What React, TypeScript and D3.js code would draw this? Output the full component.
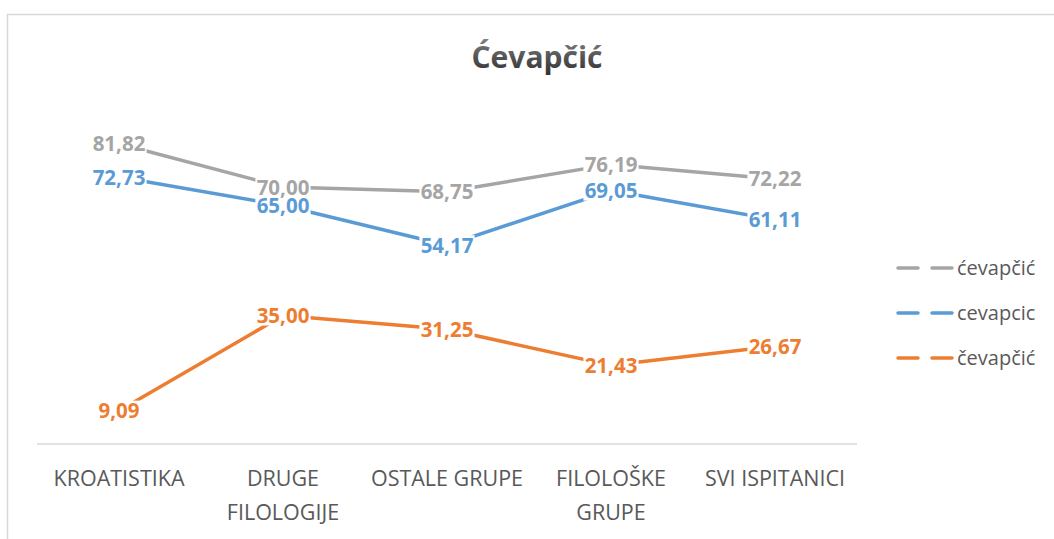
import React from "react";
import * as d3 from "d3";

const categories: string[][] = [
  ["KROATISTIKA"],
  ["DRUGE", "FILOLOGIJE"],
  ["OSTALE GRUPE"],
  ["FILOLOŠKE", "GRUPE"],
  ["SVI ISPITANICI"],
];
const seriesNames = ["ćevapčić", "cevapcic", "čevapčić"];
const seriesColors = ["#A5A5A5", "#5B9BD5", "#ED7D31"];
const grayValues = [81.82, 70.0, 68.75, 76.19, 72.22];
const blueValues = [72.73, 65.0, 54.17, 69.05, 61.11];
const orangeValues = [9.09, 35.0, 31.25, 21.43, 26.67];
const seriesValues = [grayValues, blueValues, orangeValues];
const yDomain = [0, 100];

const W = 1054;
const H = 539;
const plotLeft = 37;
const plotRight = 857;
const plotBottom = 444;
const plotTop = 77;
const FONT = "'Open Sans', 'Noto Sans', sans-serif";

export default function App() {
  const x = d3
    .scaleBand<number>()
    .domain(categories.map((_, i) => i))
    .range([plotLeft, plotRight]);
  const y = d3.scaleLinear().domain(yDomain).range([plotBottom, plotTop]);
  const cx = (i: number) => (x(i) as number) + x.bandwidth() / 2;
  const line = d3
    .line<number>()
    .x((_, i) => cx(i))
    .y((d) => y(d));
  const fmt = (v: number) => v.toFixed(2).replace(".", ",");
  const labelW = (s: string) =>
    s.split("").reduce((a, c) => a + (c === "," ? 6 : 11.8), 0) + 2;

  return (
    <svg
      width={W}
      height={H}
      style={{ position: "absolute", left: 0, top: 0, background: "#fff" }}
    >
      <defs>
        <linearGradient id="tg" x1="0" y1="0" x2="0" y2="1">
          <stop offset="0" stopColor="#8a8a8a" />
          <stop offset="0.5" stopColor="#555555" />
          <stop offset="1" stopColor="#2e2e2e" />
        </linearGradient>
      </defs>
      <rect x={7.5} y={14.5} width={W + 10} height={H + 10} fill="#fff" stroke="#d9d9d9" strokeWidth={1.5} />
      <text
        x={537}
        y={68}
        textAnchor="middle"
        fontFamily={FONT}
        fontWeight="bold"
        fontSize={30}
        fill="url(#tg)"
      >
        Ćevapčić
      </text>
      <line x1={plotLeft} x2={plotRight} y1={plotBottom} y2={plotBottom} stroke="#d9d9d9" strokeWidth={1.5} />
      {categories.map((lines, i) => (
        <text
          key={i}
          x={cx(i)}
          y={486}
          textAnchor="middle"
          fontFamily={FONT}
          fontSize={21.5}
          fill="#595959"
        >
          {lines.map((l, j) => (
            <tspan key={j} x={cx(i)} dy={j === 0 ? 0 : 34}>
              {l}
            </tspan>
          ))}
        </text>
      ))}
      {seriesValues.map((vals, s) => (
        <path
          key={s}
          d={line(vals) || ""}
          fill="none"
          stroke={seriesColors[s]}
          strokeWidth={3.5}
          strokeLinejoin="round"
        />
      ))}
      {seriesValues.map((vals, s) =>
        vals.map((v, i) => {
          const w = labelW(fmt(v));
          return (
            <rect
              key={`r-${s}-${i}`}
              x={cx(i) - w / 2}
              y={y(v) - 10}
              width={w}
              height={20}
              fill="#fff"
            />
          );
        })
      )}
      {seriesValues.map((vals, s) =>
        vals.map((v, i) => (
          <text
            key={`t-${s}-${i}`}
            x={cx(i)}
            y={y(v) + 7.5}
            textAnchor="middle"
            fontFamily={FONT}
            fontWeight="bold"
            fontSize={20.5}
            fill={seriesColors[s]}
          >
            {fmt(v)}
          </text>
        ))
      )}
      {seriesNames.map((n, s) => {
        const ly = 268 + s * 45;
        return (
          <g key={n}>
            <line
              x1={898}
              x2={952}
              y1={ly}
              y2={ly}
              stroke={seriesColors[s]}
              strokeWidth={3.5}
              strokeDasharray="20,14"
              strokeLinecap="round"
            />
            <text x={957} y={ly + 7} fontFamily={FONT} fontSize={20} fill="#595959">
              {n}
            </text>
          </g>
        );
      })}
    </svg>
  );
}
